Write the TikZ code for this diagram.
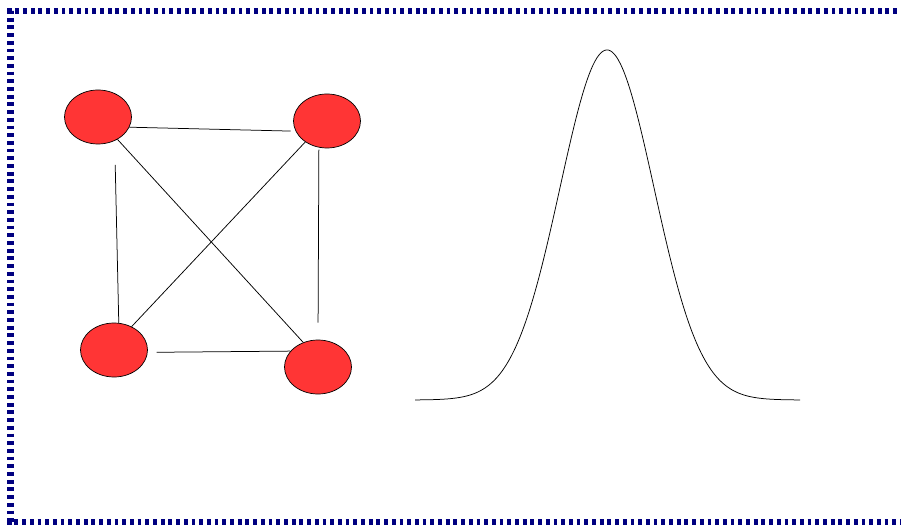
\documentclass[tikz,border=0pt]{standalone}
\usetikzlibrary{shapes.geometric}
\definecolor{Navy}{HTML}{000080}
\definecolor{NodeRed}{HTML}{FF3535}

\begin{document}
\begin{tikzpicture}[x=1pt,y=-1pt,
  vertex/.style={ellipse,draw=black,line width=0.7pt,fill=NodeRed,minimum width=67pt,minimum height=54pt,inner sep=0pt},
  edge/.style={black,line width=0.75pt}]
\useasboundingbox (0,0) rectangle (901,526);
\clip (0,0) rectangle (901,526);
% frame
\draw[Navy,line width=6.5pt,dash pattern=on 3.8pt off 3.9pt] (920,11) -- (10.5,11) -- (10.5,522) -- (920,522);
% graph
\foreach \n/\x/\y in {A/98/117,B/327/121,C/114/350,D/318/367} {\node[vertex] (\n) at (\x,\y) {};}
\draw[edge,shorten >=5pt] (A.-18) -- (B.-162);
\draw[edge] (A.-49) -- (D.121);
\draw[edge] (B.-136) -- (C.53);
\draw[edge,shorten <=24pt] (A.-55) -- (C.80);
\draw[edge,shorten <=2pt,shorten >=17pt] (B.-107) -- (D.90);
\draw[edge,shorten <=9pt] (C.-4) -- (D.150);
% bell curve
\draw[black,line width=0.75pt] plot[domain=415:800,samples=200,smooth] (\x,{400-350*exp(-0.5*(((\x-607)/47)^2))});
\end{tikzpicture}
\end{document}
